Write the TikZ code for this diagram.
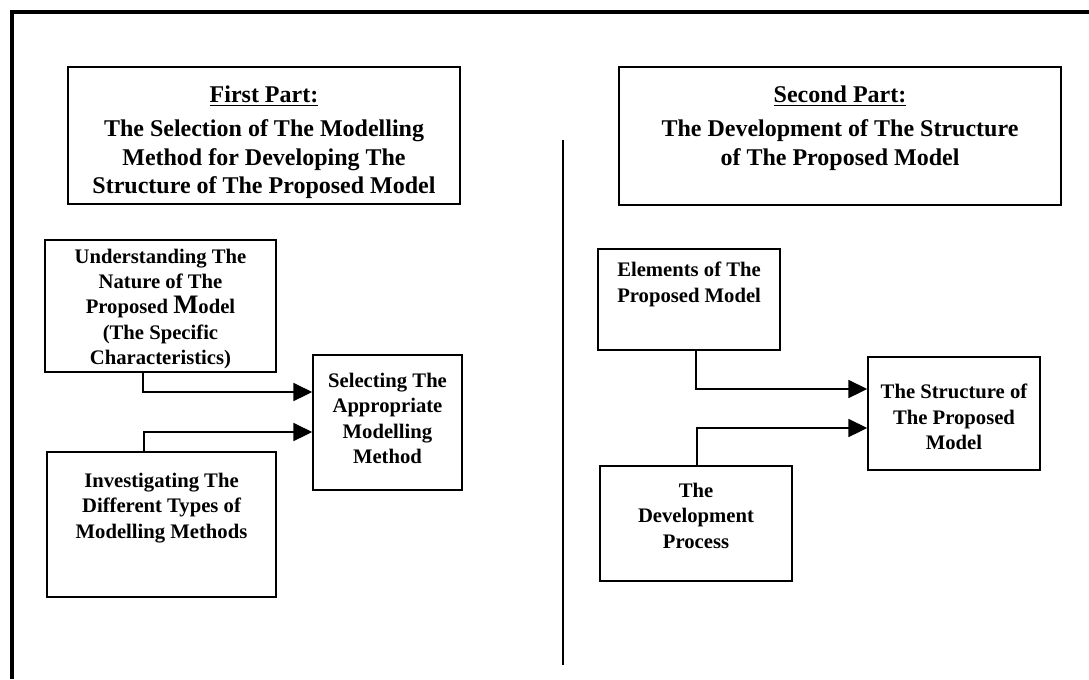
\documentclass[tikz,border=0pt]{standalone}
\usepackage{fontspec}
\setmainfont{Liberation Serif}
\usetikzlibrary{arrows.meta,fit}
\begin{document}
\begin{tikzpicture}[x=0.75pt,y=-0.75pt,
  box/.style={draw, line width=1.3pt, inner sep=0pt},
  head/.style={anchor=north, align=center, inner sep=0pt,
    font=\bfseries\fontsize{18}{21.6}\selectfont},
  txt/.style={anchor=north, align=center, inner sep=0pt,
    font=\bfseries\fontsize{15.5}{18.9}\selectfont},
  arr/.style={line width=1.3pt, -{Triangle[length=14pt 0 0,width=13.5pt 0 0]}},
]
\useasboundingbox (0,0) rectangle (1089,679);

% open outer frame: top and left edges only
\coordinate (frameR) at (1089,12);
\coordinate (frameC) at (12,12);
\coordinate (frameB) at (12,679);
\draw[line width=3.4pt] (frameR) -- (frameC) -- (frameB);

% divider between the two parts
\coordinate (divT) at (563,140);
\coordinate (divB) at (563,665);
\draw[line width=1pt] (divT) -- (divB);

% ---------- first part ----------
\node[box, fit={(68,67) (460,204)}] (h1) {};
\node[head] (h1t) at (264,86)
  {\underline{First Part:}\\[3.5pt]The Selection of The Modelling\\Method for Developing The\\Structure of The Proposed Model};

\node[box, fit={(45,240) (276,372)}] (ua) {};
\node[txt, font=\bfseries\fontsize{15.5}{19}\selectfont] (uat) at (160.5,248.5)
  {Understanding The\\Nature of The\\Proposed {\fontsize{20}{19}\selectfont M}odel\\(The Specific\\Characteristics)};

\node[box, fit={(47,452) (276,597)}] (inv) {};
\node[txt] (invt) at (161.5,473)
  {Investigating The\\Different Types of\\Modelling Methods};

\node[box, fit={(313,355) (462,490)}] (sel) {};
\node[txt] (selt) at (387.5,373)
  {Selecting The\\Appropriate\\Modelling\\Method};

\draw[arr] (ua.south west -| 143,0) |- (sel.west |- 0,392);
\draw[arr] (inv.north west -| 144,0) |- (sel.west |- 0,432);

% ---------- second part ----------
\node[box, fit={(619,67) (1061,205)}] (h2) {};
\node[head] (h2t) at (840,86)
  {\underline{Second Part:}\\[3.5pt]The Development of The Structure\\of The Proposed Model};

\node[box, fit={(598,249) (780,350)}] (el) {};
\node[txt, anchor=north west, align=left] (elt) at (617,262)
  {Elements of The\\Proposed Model};

\node[box, fit={(600,466) (792,581)}] (dev) {};
\node[txt] (devt) at (696,483)
  {The\\Development\\Process};

\node[box, fit={(868,357) (1040,470)}] (st) {};
\node[txt] (stt) at (954,384)
  {The Structure of\\The Proposed\\Model};

\draw[arr] (el.south west -| 696,0) |- (st.west |- 0,389);
\draw[arr] (dev.north west -| 697,0) |- (st.west |- 0,428);
\end{tikzpicture}
\end{document}
